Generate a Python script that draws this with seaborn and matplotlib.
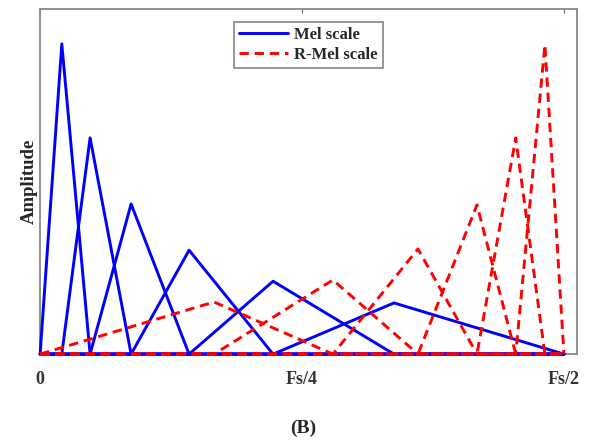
#!/usr/bin/env python

import matplotlib
matplotlib.use('Agg')
import matplotlib.pyplot as plt
from matplotlib.lines import Line2D
import pandas as pd
import seaborn as sns

# Filter corner frequencies (fraction of Fs/2) and peak amplitudes
mel_centers = [0.0, 0.0414, 0.0954, 0.1737, 0.2844, 0.4447, 0.6756, 1.0]
mel_peaks = [1.0, 0.697, 0.484, 0.335, 0.235, 0.165]
rmel_centers = [0.0, 0.332, 0.559, 0.7214, 0.834, 0.908, 0.9637, 1.0]
rmel_peaks = [0.168, 0.239, 0.339, 0.481, 0.697, 0.997]

tick_pos = [0, 0.5, 1.0]
tick_labels = ['0', 'Fs/4', 'Fs/2']


def build_frame(centers, peaks, name):
    rows = []
    for i, peak in enumerate(peaks):
        lo, mid, hi = centers[i], centers[i + 1], centers[i + 2]
        for f, a in [(0.0, 0.0), (lo, 0.0), (mid, peak), (hi, 0.0), (1.0, 0.0)]:
            rows.append({'freq': f, 'amp': a, 'filt': '{}-{}'.format(name, i)})
    return pd.DataFrame(rows)


def main():
    mel_df = build_frame(mel_centers, mel_peaks, 'mel')
    rmel_df = build_frame(rmel_centers, rmel_peaks, 'rmel')

    sns.set_style('white')
    plt.rcParams['font.family'] = ['Liberation Serif', 'DejaVu Serif']
    plt.rcParams['font.weight'] = 'bold'

    fig = plt.figure(figsize=(5.9, 4.41), dpi=100)
    ax = fig.add_axes([0.068, 0.197, 0.910, 0.783])

    red_dash = (3.2, 2.0)
    sns.lineplot(data=mel_df, x='freq', y='amp', units='filt', estimator=None,
                 color='#0000ff', linewidth=2.1, sort=False, legend=False, ax=ax)
    n_mel = len(ax.lines)
    sns.lineplot(data=rmel_df, x='freq', y='amp', units='filt', estimator=None,
                 color='#ff0000', linewidth=2.1, sort=False, legend=False, ax=ax)
    for k, ln in enumerate(ax.lines):
        ln.set_clip_on(False)
        if k >= n_mel:
            ln.set_dashes(red_dash)
            ln.set_zorder(4)
        else:
            ln.set_zorder(3)

    ax.set_xlim(0, 1.025)
    ax.set_ylim(0, 1.113)
    ax.set_xticks(tick_pos)
    ax.set_xticklabels(tick_labels, fontsize=13, fontweight='bold', color='#333333')
    ax.set_yticks([])
    ax.tick_params(axis='x', direction='in', length=3, color='#666666', top=True, pad=12)
    for sp in ax.spines.values():
        sp.set_color('#888888')
        sp.set_linewidth(1.3)

    ax.set_xlabel('')
    ax.set_ylabel('Amplitude', fontsize=13.5, fontweight='bold', labelpad=2)

    handles = [Line2D([], [], color='#0000ff', lw=2.1),
               Line2D([], [], color='#ff0000', lw=2.1, dashes=red_dash)]
    leg = ax.legend(handles, ['Mel scale', 'R-Mel scale'], loc='upper center',
                    bbox_to_anchor=(0.5, 0.985), fancybox=False, handlelength=2.9,
                    handletextpad=0.4, prop={'size': 12, 'weight': 'bold'},
                    borderpad=0.3, labelspacing=0.2)
    leg.get_frame().set_edgecolor('#666666')
    leg.get_frame().set_linewidth(1.2)
    leg.set_zorder(5)

    fig.text(0.514, 0.01, '(B)', ha='center', va='bottom', fontsize=14, fontweight='bold')

    plt.savefig('out.png', dpi=100)


if __name__ == '__main__':
    main()
